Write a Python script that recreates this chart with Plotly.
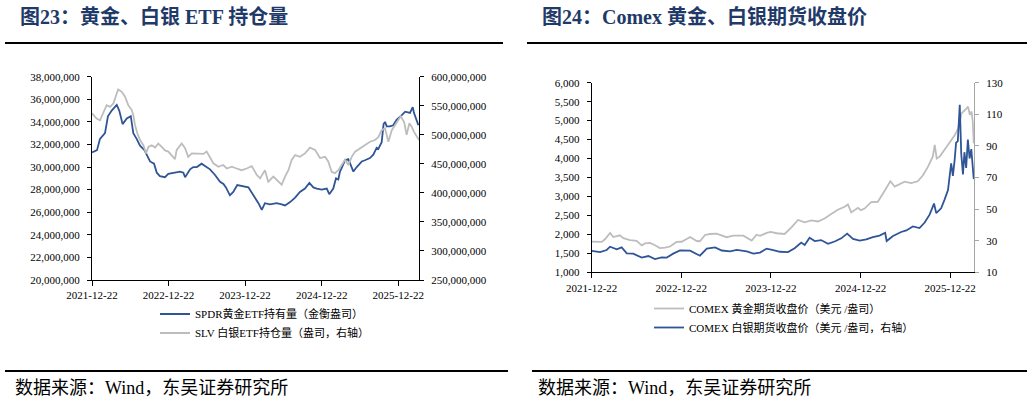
import plotly.graph_objects as go

# ---------------- data: left chart (ETF holdings) ----------------
spdr_dates = ["2021-12-22", "2022-01-05", "2022-01-15", "2022-01-29", "2022-02-22", "2022-03-08",
              "2022-03-26", "2022-04-19", "2022-05-01", "2022-05-17", "2022-06-06", "2022-06-25",
              "2022-07-07", "2022-07-23", "2022-08-08", "2022-08-29", "2022-09-25", "2022-10-14",
              "2022-10-27", "2022-11-11", "2022-12-05", "2022-12-21", "2023-01-14", "2023-02-15",
              "2023-03-03", "2023-03-11", "2023-04-04", "2023-04-19", "2023-05-06", "2023-05-29",
              "2023-06-14", "2023-07-08", "2023-08-01", "2023-08-25", "2023-09-10", "2023-09-22",
              "2023-10-11", "2023-10-27", "2023-11-15", "2023-12-22", "2024-01-07", "2024-01-31",
              "2024-02-24", "2024-03-11", "2024-03-26", "2024-04-19", "2024-05-21", "2024-06-14",
              "2024-06-30", "2024-07-24", "2024-08-17", "2024-09-09", "2024-10-03", "2024-10-24",
              "2024-11-12", "2024-11-28", "2024-12-22", "2025-01-15", "2025-01-27", "2025-02-15",
              "2025-02-28", "2025-03-11", "2025-03-19", "2025-03-27", "2025-04-12", "2025-04-28",
              "2025-05-06", "2025-05-22", "2025-06-07", "2025-07-01", "2025-07-16", "2025-08-09",
              "2025-08-25", "2025-09-10", "2025-09-18", "2025-10-04", "2025-10-13", "2025-10-20",
              "2025-10-28", "2025-11-13", "2025-11-28", "2025-12-15", "2026-01-08", "2026-01-24",
              "2026-02-16", "2026-03-01", "2026-03-07", "2026-03-20", "2026-03-28"]
spdr_moz = [31.3, 31.4, 31.5, 32.5, 33.0, 34.5,
            35.0, 35.5, 35.0, 33.8, 34.3, 34.5,
            33.0, 32.5, 31.9, 31.5, 30.5, 30.3,
            29.5, 29.2, 29.1, 29.4, 29.5, 29.6,
            29.5, 29.1, 29.8, 30.0, 30.0, 30.3,
            30.1, 29.8, 29.3, 28.7, 28.5, 28.2,
            27.5, 27.8, 28.4, 28.3, 28.2, 27.5,
            26.8, 26.2, 26.8, 26.7, 26.8, 26.7,
            26.6, 26.9, 27.3, 27.8, 28.1, 28.6,
            28.2, 28.1, 28.0, 28.1, 27.6, 28.1,
            29.0, 28.9, 29.6, 29.9, 30.6, 30.7,
            30.3, 29.6, 30.0, 30.5, 30.6, 30.8,
            31.1, 31.7, 31.6, 32.2, 33.8, 34.0,
            33.6, 33.6, 33.7, 34.2, 34.6, 34.9,
            34.8, 35.3, 34.8, 34.2, 33.7]

slv_dates = ["2021-12-22", "2022-01-13", "2022-01-29", "2022-02-14", "2022-03-02", "2022-03-18",
             "2022-04-03", "2022-04-19", "2022-04-26", "2022-05-13", "2022-05-28", "2022-06-13",
             "2022-06-29", "2022-07-07", "2022-07-15", "2022-07-26", "2022-08-08", "2022-08-24",
             "2022-09-06", "2022-09-17", "2022-10-03", "2022-10-19", "2022-11-03", "2022-11-20",
             "2022-12-05", "2022-12-21", "2023-01-06", "2023-01-22", "2023-01-30", "2023-02-23",
             "2023-03-11", "2023-03-26", "2023-04-12", "2023-05-06", "2023-06-06", "2023-06-22",
             "2023-07-08", "2023-07-24", "2023-08-17", "2023-09-09", "2023-09-26", "2023-10-20",
             "2023-11-12", "2023-12-06", "2023-12-30", "2024-01-23", "2024-02-16", "2024-03-03",
             "2024-03-26", "2024-04-11", "2024-05-05", "2024-05-29", "2024-06-14", "2024-06-30",
             "2024-07-16", "2024-08-01", "2024-08-17", "2024-09-09", "2024-10-03", "2024-10-27",
             "2024-11-20", "2024-12-14", "2025-01-07", "2025-01-22", "2025-02-08", "2025-02-23",
             "2025-03-11", "2025-03-27", "2025-04-12", "2025-04-28", "2025-05-14", "2025-05-30",
             "2025-06-23", "2025-07-16", "2025-08-09", "2025-09-02", "2025-09-18", "2025-10-04",
             "2025-10-20", "2025-11-05", "2025-11-21", "2025-12-07", "2025-12-22", "2026-01-03",
             "2026-01-19", "2026-01-31", "2026-02-13", "2026-02-24", "2026-03-07", "2026-03-20",
             "2026-03-31"]
slv_moz = [537, 528, 525, 537, 551, 548,
           554, 571, 578, 574, 566, 551,
           543, 534, 517, 503, 491, 482,
           468, 479, 482, 478, 485, 479,
           473, 471, 465, 458, 474, 485,
           477, 462, 468, 468, 467, 471,
           462, 451, 445, 448, 442, 445,
           442, 439, 442, 446, 431, 425,
           439, 419, 428, 419, 414, 428,
           439, 457, 465, 462, 468, 478,
           474, 460, 462, 454, 436, 434,
           439, 448, 457, 448, 462, 471,
           477, 482, 488, 491, 496, 508,
           511, 488, 508, 517, 525, 532,
           522, 500, 520, 514, 505, 497,
           491]

# ---------------- data: right chart (COMEX futures) ----------------
gold_dates = ["2021-12-22", "2022-01-18", "2022-02-01", "2022-02-14", "2022-03-07", "2022-03-20",
              "2022-04-16", "2022-04-30", "2022-05-27", "2022-06-23", "2022-07-14", "2022-07-27",
              "2022-08-17", "2022-09-06", "2022-09-26", "2022-10-17", "2022-11-06", "2022-12-03",
              "2022-12-24", "2023-01-27", "2023-02-23", "2023-03-08", "2023-03-29", "2023-04-18",
              "2023-05-15", "2023-06-25", "2023-07-22", "2023-09-01", "2023-10-05", "2023-10-25",
              "2023-11-08", "2023-12-05", "2023-12-21", "2024-01-15", "2024-02-16", "2024-03-14",
              "2024-04-11", "2024-05-08", "2024-06-04", "2024-07-01", "2024-07-28", "2024-08-24",
              "2024-09-20", "2024-10-18", "2024-10-31", "2024-11-14", "2024-12-11", "2024-12-23",
              "2025-01-07", "2025-02-03", "2025-03-02", "2025-03-30", "2025-04-22", "2025-05-10",
              "2025-05-30", "2025-06-19", "2025-07-16", "2025-08-12", "2025-09-02", "2025-09-22",
              "2025-10-12", "2025-10-20", "2025-10-28", "2025-11-09", "2025-11-29", "2025-12-22",
              "2026-01-10", "2026-01-24", "2026-02-06", "2026-02-20", "2026-03-05", "2026-03-12",
              "2026-03-19", "2026-03-24", "2026-03-28"]
gold_usd = [1810, 1815, 1800, 1870, 2040, 1930,
            1975, 1900, 1850, 1830, 1710, 1760,
            1775, 1715, 1640, 1650, 1680, 1800,
            1805, 1930, 1825, 1820, 1985, 2010,
            2020, 1925, 1965, 1965, 1835, 1990,
            1960, 2040, 2065, 2030, 2010, 2180,
            2380, 2320, 2370, 2340, 2420, 2540,
            2650, 2730, 2790, 2580, 2700, 2640,
            2680, 2850, 2860, 3150, 3400, 3260,
            3320, 3390, 3350, 3400, 3560, 3780,
            4050, 4360, 4000, 4050, 4230, 4450,
            4620, 4800, 5190, 5280, 5370, 5150,
            5240, 4970, 4400]

silver_dates = ["2021-12-22", "2022-01-25", "2022-02-21", "2022-03-07", "2022-04-03", "2022-04-23",
                "2022-05-14", "2022-06-09", "2022-07-14", "2022-08-10", "2022-09-06", "2022-10-03",
                "2022-10-24", "2022-11-19", "2022-12-17", "2023-01-27", "2023-03-08", "2023-04-05",
                "2023-05-09", "2023-06-05", "2023-07-09", "2023-08-05", "2023-09-15", "2023-10-12",
                "2023-11-08", "2023-12-05", "2024-01-01", "2024-01-28", "2024-03-01", "2024-03-28",
                "2024-04-24", "2024-05-08", "2024-05-28", "2024-06-18", "2024-07-14", "2024-08-11",
                "2024-09-07", "2024-10-04", "2024-10-28", "2024-11-21", "2024-12-18", "2025-01-14",
                "2025-02-10", "2025-03-09", "2025-04-01", "2025-04-07", "2025-05-03", "2025-06-05",
                "2025-06-26", "2025-07-23", "2025-08-19", "2025-09-09", "2025-09-29", "2025-10-17",
                "2025-10-26", "2025-11-15", "2025-11-29", "2025-12-13", "2025-12-26", "2026-01-02",
                "2026-01-09", "2026-01-15", "2026-01-22", "2026-01-30", "2026-02-05", "2026-02-12",
                "2026-02-18", "2026-02-25", "2026-03-04", "2026-03-11", "2026-03-18", "2026-03-24",
                "2026-03-28"]
silver_usd = [23.5, 22.8, 24.1, 26.2, 24.6, 25.8,
              22.0, 21.8, 19.3, 20.3, 18.4, 19.5,
              19.3, 21.8, 23.8, 23.7, 20.5, 25.0,
              25.8, 23.8, 23.3, 24.2, 23.2, 21.8,
              22.5, 25.0, 24.1, 23.0, 22.8, 25.2,
              28.8, 27.3, 31.9, 29.8, 30.4, 28.0,
              29.5, 31.5, 34.5, 31.1, 30.0, 30.8,
              32.3, 33.2, 35.0, 29.8, 33.0, 35.5,
              36.5, 39.0, 38.0, 41.5, 46.5, 53.5,
              47.5, 50.5, 56.0, 62.0, 79.0, 71.0,
              81.0, 92.0, 93.0, 116.0, 85.0, 72.0,
              86.0, 76.0, 94.0, 82.0, 88.0, 72.0,
              69.0]

x_ticks = ["2021-12-22", "2022-12-22", "2023-12-22", "2024-12-22", "2025-12-22"]

spdr_oz = [v * 1_000_000 for v in spdr_moz]
slv_oz = [v * 1_000_000 for v in slv_moz]

# ---------------- styling ----------------
W, H = 1032, 402
BLUE = "#2F5597"
GREY = "#BDBDBD"
NAVY = "#1F3A68"
SERIF = "Liberation Serif, Times New Roman, Noto Sans CJK SC, serif"
TICKF = dict(family=SERIF, size=11, color="#000000")


def px(x):
    return x / W


def py(y):
    return 1 - y / H


fig = go.Figure()
fig.add_trace(go.Scatter(x=slv_dates, y=slv_oz, xaxis="x", yaxis="y2", mode="lines",
                         line=dict(color=GREY, width=1.8),
                         name="SLV 白银ETF持仓量（盎司，右轴）", legend="legend", legendrank=2))
fig.add_trace(go.Scatter(x=spdr_dates, y=spdr_oz, xaxis="x", yaxis="y", mode="lines",
                         line=dict(color=BLUE, width=1.8),
                         name="SPDR黄金ETF持有量（金衡盎司）", legend="legend", legendrank=1))
fig.add_trace(go.Scatter(x=gold_dates, y=gold_usd, xaxis="x2", yaxis="y3", mode="lines",
                         line=dict(color=GREY, width=1.8),
                         name="COMEX 黄金期货收盘价（美元 /盎司）", legend="legend2", legendrank=1))
fig.add_trace(go.Scatter(x=silver_dates, y=silver_usd, xaxis="x2", yaxis="y4", mode="lines",
                         line=dict(color=BLUE, width=1.8),
                         name="COMEX 白银期货收盘价（美元 /盎司，右轴）", legend="legend2", legendrank=2))

common_x = dict(type="date", tickmode="array", tickvals=x_ticks, ticktext=x_ticks,
                ticks="outside", ticklen=5, tickcolor="#000", showline=True, linecolor="#000",
                linewidth=1, showgrid=False, zeroline=False, tickfont=TICKF, automargin=False)
common_y = dict(ticks="outside", ticklen=4, tickcolor="#000", showline=True, linecolor="#000",
                linewidth=1, showgrid=False, zeroline=False, tickfont=TICKF, tickformat=",d",
                ticklabelstandoff=5, automargin=False)

fig.update_layout(
    template="none",
    width=W, height=H, margin=dict(l=0, r=0, t=0, b=0, pad=0, autoexpand=False),
    paper_bgcolor="white", plot_bgcolor="white", showlegend=True,
    xaxis=dict(domain=[px(92), px(419)], anchor="y", range=["2021-12-22", "2026-03-31"], **common_x),
    yaxis=dict(domain=[py(280), py(76.7)], anchor="x", range=[20e6, 38e6], tick0=20e6, dtick=2e6,
               side="left", **common_y),
    yaxis2=dict(overlaying="y", anchor="x", side="right", range=[250e6, 600e6], tick0=250e6,
                dtick=50e6, **common_y),
    xaxis2=dict(domain=[px(591.7), px(974)], anchor="y3", range=["2021-12-22", "2026-03-29"], **common_x),
    yaxis3=dict(domain=[py(272.3), py(82.7)], anchor="x2", range=[1000, 6000], tick0=1000, dtick=500,
                side="left", **common_y),
    yaxis4=dict(overlaying="y3", anchor="x2", side="right", range=[10, 130], tick0=10, dtick=20,
                **{**common_y, "linecolor": "#A6A6A6", "tickcolor": "#A6A6A6"}),
    legend=dict(x=px(155), y=py(299.5), xanchor="left", yanchor="top", orientation="v",
                bgcolor="rgba(0,0,0,0)", borderwidth=0, font=dict(family=SERIF, size=11, color="#000"),
                traceorder="normal"),
    legend2=dict(x=px(649), y=py(294), xanchor="left", yanchor="top", orientation="v",
                 bgcolor="rgba(0,0,0,0)", borderwidth=0, font=dict(family=SERIF, size=11, color="#000"),
                 traceorder="normal"),
)

title_font = dict(family=SERIF, size=20, color=NAVY)
foot_font = dict(family=SERIF, size=18, color="#000")
fig.add_annotation(x=px(18), y=py(17), xref="paper", yref="paper", xanchor="left", yanchor="middle",
                   text="<b>图23：黄金、白银 ETF 持仓量</b>", showarrow=False, font=title_font)
fig.add_annotation(x=px(540), y=py(17), xref="paper", yref="paper", xanchor="left", yanchor="middle",
                   text="<b>图24：Comex 黄金、白银期货收盘价</b>", showarrow=False, font=title_font)
fig.add_annotation(x=px(13), y=py(388), xref="paper", yref="paper", xanchor="left", yanchor="middle",
                   text="数据来源：Wind，东吴证券研究所", showarrow=False, font=foot_font)
fig.add_annotation(x=px(536), y=py(388), xref="paper", yref="paper", xanchor="left", yanchor="middle",
                   text="数据来源：Wind，东吴证券研究所", showarrow=False, font=foot_font)

for x0, x1, y in [(5, 503, 43), (527, 1027, 43), (5, 508, 371), (532, 1027, 371)]:
    fig.add_shape(type="line", xref="paper", yref="paper", x0=px(x0), x1=px(x1), y0=py(y), y1=py(y),
                  line=dict(color="#000", width=2))

fig.write_html("out.html")
